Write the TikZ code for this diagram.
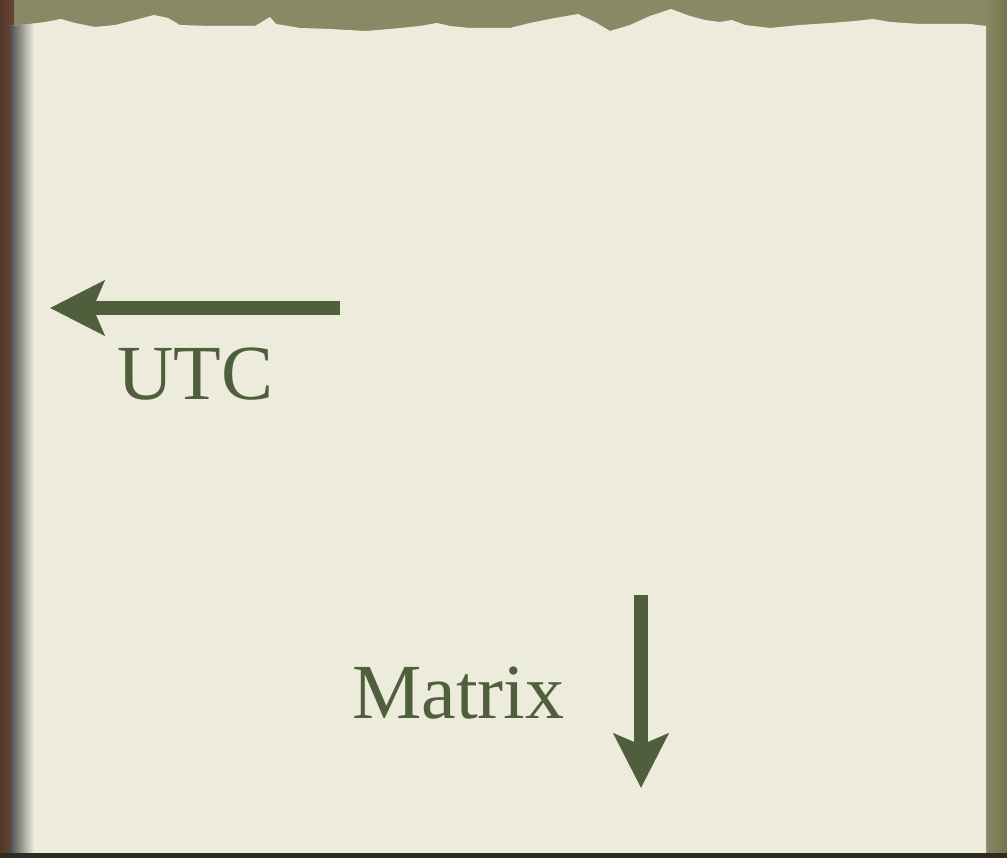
\documentclass[tikz,border=0pt]{standalone}
\usepackage{fontspec}
\setmainfont{Liberation Serif}
\usetikzlibrary{arrows.meta}
\definecolor{olivebg}{HTML}{8A8966}
\definecolor{olivedark}{HTML}{75744F}
\definecolor{paper}{HTML}{ECEBDC}
\definecolor{ink}{HTML}{4F5E3B}
\definecolor{woodbrown}{HTML}{6A4634}
\definecolor{bottomline}{HTML}{2E2B22}
\tikzset{
  bigarrow/.style={draw=ink, line width=14pt, -{Stealth[length=54pt,width=54pt,inset=11pt]}},
  biglabel/.style={text=ink, font=\fontsize{78}{90}\selectfont, inner sep=0pt, anchor=base west}
}
\begin{document}
\begin{tikzpicture}[x=1pt,y=-1pt]
\useasboundingbox (0,0) rectangle (1007,858);
% background
\fill[olivebg] (0,0) rectangle (1007,858);
\shade[left color=olivebg, right color=olivedark] (985,0) rectangle (1007,858);
% left wood strip
\shade[left color=woodbrown!80!black, right color=woodbrown] (0,0) rectangle (14,858);
% paper with torn top edge
\def\paperpath{(10,26) -- (30,24) -- (45,22) -- (61,19) -- (75,23) -- (95,27) -- (115,25) -- (135,20)
  -- (154,15) -- (168,18) -- (180,25) -- (210,26) -- (255,26) -- (265,20) -- (270,17) -- (276,24)
  -- (300,28) -- (330,29) -- (366,31) -- (390,29) -- (420,26) -- (437,23) -- (450,26) -- (470,28)
  -- (510,28) -- (530,23) -- (555,18) -- (578,14) -- (595,22) -- (610,31) -- (630,25) -- (650,16)
  -- (671,9) -- (690,16) -- (705,20) -- (720,22) -- (732,20) -- (745,25) -- (770,28) -- (800,25)
  -- (830,23) -- (855,21) -- (873,19) -- (890,22) -- (920,24) -- (950,24) -- (970,24) -- (986,26)
  -- (986,853) -- (10,853) -- cycle}
\fill[paper] \paperpath;
% left shadow on paper
\begin{scope}
\clip \paperpath;
\shade[left color=black!70, right color=paper] (10,0) rectangle (34,853);
\end{scope}
% bottom dark line
\fill[bottomline] (0,853) rectangle (1007,858);
% arrows and labels
\coordinate (utcstart) at (340,308);
\coordinate (utcend) at (50,308);
\draw[bigarrow] (utcstart) -- (utcend);
\node[biglabel] (utc) at (117,400) {UTC};
\coordinate (mxstart) at (641,595);
\coordinate (mxend) at (641,788);
\draw[bigarrow] (mxstart) -- (mxend);
\node[biglabel] (matrix) at (352,718) {Matrix};
\end{tikzpicture}
\end{document}
